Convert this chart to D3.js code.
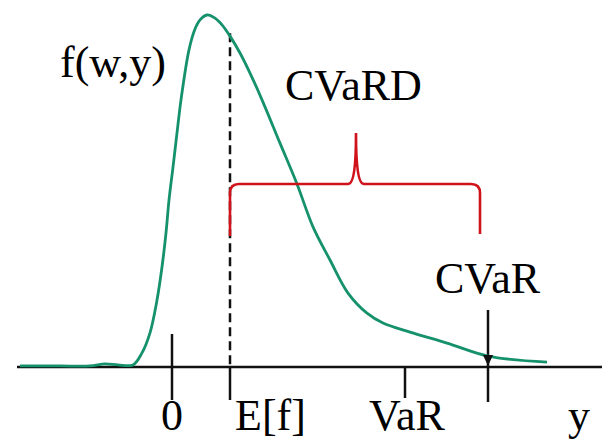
<!DOCTYPE html>
<html>
<head>
<meta charset="utf-8">
<script src="https://cdn.jsdelivr.net/npm/d3@7"></script>
<style>
  html, body { margin: 0; padding: 0; background: #fff; }
  text { font-family: "Liberation Serif", "Times New Roman", serif; fill: #000; }
</style>
</head>
<body>
<div id="chart"></div>
<script>
// Density curve f(w,y) (y position, density)
var curveY = [-15.2, -11.2, -8.2, -6.7, -5.4, -3.9, -3.0, -2.2, -1.5, -1.0, -0.6, -0.3, 0.1, 0.5, 0.9, 1.7, 2.3, 2.8, 3.5,
              4.3, 5.0, 5.8, 6.8, 7.8, 9.0, 10.8, 12.5, 14.1, 15.8, 17.6, 19.5, 21.1, 23.8, 27.5, 31.6, 37.5];
var curveF = [0.003, 0.003, 0.003, 0.009, 0.006, 0.006, 0.040, 0.097, 0.190, 0.284, 0.381, 0.474, 0.568, 0.665, 0.759, 0.901, 0.960, 0.986, 1.0,
              0.991, 0.972, 0.940, 0.892, 0.835, 0.759, 0.636, 0.520, 0.398, 0.304, 0.210, 0.153, 0.125, 0.099, 0.068, 0.031, 0.014];

// marked positions on the y axis
var tickNames = ["0", "E[f]", "VaR", "CVaR"];
var tickValues = [0, 5.8, 23.3, 31.6];

// CVaRD brace: from E[f] to near CVaR, levels in density units
var braceX = [5.8, 30.8];
var braceTip = 18.4;
var braceLevels = [0.372, 0.52, 0.665];   // ends, bar, tip

var svgWidth = 602;
var svgHeight = 440;

var svg = d3.select("#chart")
    .append("svg")
    .attr("width", svgWidth)
    .attr("height", svgHeight);

var x = d3.scaleLinear().domain([-15.5, 43]).range([17, 602]);
var y = d3.scaleLinear().domain([0, 1]).range([367, 15]);

var data = curveY.map(function (v, i) { return { y: v, f: curveF[i] }; });

// horizontal axis
svg.append("line")
    .attr("x1", x(-15.5)).attr("x2", x(43))
    .attr("y1", y(0)).attr("y2", y(0))
    .attr("stroke", "#111").attr("stroke-width", 2.5);

// ticks
var tickTop = [y(0) - 33, y(0), y(0), y(0) - 57];
var tickBottom = [y(0) + 33, y(0) + 33, y(0) + 31, y(0) + 35];
tickValues.forEach(function (t, i) {
    svg.append("line")
        .attr("x1", x(t)).attr("x2", x(t))
        .attr("y1", tickTop[i]).attr("y2", tickBottom[i])
        .attr("stroke", "#111").attr("stroke-width", 2.5);
});

// dashed line at E[f]
svg.append("line")
    .attr("x1", x(tickValues[1])).attr("x2", x(tickValues[1]))
    .attr("y1", y(0.948)).attr("y2", y(0))
    .attr("stroke", "#111").attr("stroke-width", 2.5)
    .attr("stroke-dasharray", "9,5");

// density curve
var line = d3.line()
    .x(function (d) { return x(d.y); })
    .y(function (d) { return y(d.f); })
    .curve(d3.curveCatmullRom.alpha(0.5));

svg.append("path")
    .datum(data)
    .attr("d", line)
    .attr("fill", "none")
    .attr("stroke", "#15916c")
    .attr("stroke-width", 2.8);

// brace
var bx0 = x(braceX[0]), bx1 = x(braceX[1]), bt = x(braceTip);
var yEnd = y(braceLevels[0]), yBar = y(braceLevels[1]), yTip = y(braceLevels[2]);
var brace = d3.path();
brace.moveTo(bx0, yEnd);
brace.lineTo(bx0, yBar + 9);
brace.quadraticCurveTo(bx0, yBar, bx0 + 9, yBar);
brace.lineTo(bt - 8, yBar);
brace.bezierCurveTo(bt - 2, yBar, bt, yBar - 20, bt, yTip);
brace.bezierCurveTo(bt, yBar - 20, bt + 2, yBar, bt + 8, yBar);
brace.lineTo(bx1 - 9, yBar);
brace.quadraticCurveTo(bx1, yBar, bx1, yBar + 9);
brace.lineTo(bx1, yEnd - 2);
svg.append("path")
    .attr("d", brace.toString())
    .attr("fill", "none")
    .attr("stroke", "#d0121b")
    .attr("stroke-width", 2.6);

// arrow pointing at CVaR
svg.append("path")
    .attr("d", d3.line()([[x(tickValues[3]) - 5, y(0) - 12], [x(tickValues[3]) + 5, y(0) - 12], [x(tickValues[3]), y(0) - 1]]))
    .attr("fill", "#111");

// labels
var fs = "44px";
var labelY = 430;
svg.append("text").attr("x", 60).attr("y", 77).style("font-size", fs).text("f(w,y)");
svg.append("text").attr("x", 285).attr("y", 100).style("font-size", fs).text("CVaRD");
svg.append("text").attr("x", x(tickValues[3]) - 53).attr("y", 293).style("font-size", fs).text(tickNames[3]);

svg.append("text").attr("x", x(tickValues[0])).attr("y", labelY)
    .attr("text-anchor", "middle").style("font-size", fs).text(tickNames[0]);
svg.append("text").attr("x", x(tickValues[1]) + 5).attr("y", labelY)
    .style("font-size", fs).text(tickNames[1]);
svg.append("text").attr("x", x(tickValues[2]) + 2).attr("y", labelY)
    .attr("text-anchor", "middle").style("font-size", fs).text(tickNames[2]);
svg.append("text").attr("x", 568).attr("y", labelY).style("font-size", fs).text("y");
</script>
</body>
</html>
